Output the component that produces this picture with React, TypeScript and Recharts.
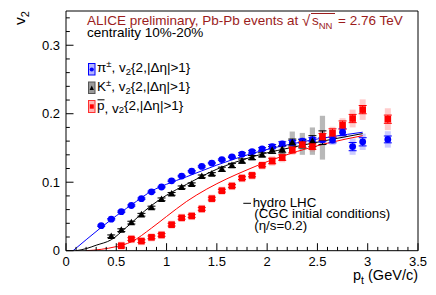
import React from 'react';
import { ComposedChart, Line, Scatter, XAxis, YAxis, ReferenceArea, ReferenceLine, ErrorBar } from 'recharts';

// ---------- data ----------
const pionPt = [0.35, 0.45, 0.55, 0.65, 0.75, 0.85, 0.95, 1.05, 1.15, 1.25, 1.35, 1.45, 1.55, 1.65, 1.75, 1.85, 1.95, 2.05, 2.15, 2.25, 2.35, 2.45, 2.55, 2.65, 2.75, 2.85, 2.95, 3.2];
const pionV2 = [0.0365, 0.046, 0.057, 0.066, 0.076, 0.086, 0.093, 0.102, 0.109, 0.116, 0.123, 0.128, 0.133, 0.137, 0.141, 0.1445, 0.1485, 0.152, 0.156, 0.158, 0.16, 0.162, 0.162, 0.1615, 0.173, 0.152, 0.159, 0.1625];
const pionStat = [0.001, 0.001, 0.001, 0.001, 0.001, 0.001, 0.001, 0.001, 0.001, 0.001, 0.001, 0.001, 0.001, 0.001, 0.002, 0.002, 0.002, 0.003, 0.003, 0.003, 0.003, 0.003, 0.003, 0.004, 0.005, 0.006, 0.006, 0.005];
const pionSys = [0.0035, 0.0035, 0.0035, 0.0035, 0.0035, 0.0035, 0.0035, 0.004, 0.004, 0.004, 0.004, 0.004, 0.004, 0.004, 0.004, 0.004, 0.004, 0.005, 0.005, 0.005, 0.005, 0.005, 0.005, 0.007, 0.009, 0.012, 0.012, 0.012];

const kaonPt = [0.45, 0.55, 0.65, 0.75, 0.85, 0.95, 1.05, 1.15, 1.25, 1.35, 1.45, 1.55, 1.65, 1.75, 1.85, 1.95, 2.05, 2.15, 2.25, 2.35, 2.45, 2.55];
const kaonV2 = [0.021, 0.03, 0.041, 0.0525, 0.063, 0.075, 0.083, 0.0925, 0.097, 0.1085, 0.112, 0.119, 0.1245, 0.131, 0.136, 0.14, 0.147, 0.148, 0.158, 0.156, 0.16, 0.165];
const kaonStat = [0.002, 0.002, 0.002, 0.002, 0.002, 0.002, 0.002, 0.002, 0.002, 0.002, 0.002, 0.003, 0.003, 0.003, 0.003, 0.003, 0.005, 0.005, 0.005, 0.006, 0.008, 0.01];
const kaonSys = [0.003, 0.003, 0.003, 0.003, 0.003, 0.003, 0.003, 0.003, 0.003, 0.003, 0.003, 0.004, 0.004, 0.004, 0.004, 0.004, 0.006, 0.008, 0.016, 0.016, 0.02, 0.032];

const protonPt = [0.55, 0.65, 0.75, 0.85, 0.95, 1.05, 1.15, 1.25, 1.35, 1.45, 1.55, 1.65, 1.75, 1.85, 1.95, 2.05, 2.15, 2.25, 2.35, 2.45, 2.55, 2.65, 2.75, 2.85, 2.95, 3.2];
const protonV2 = [0.0073, 0.017, 0.014, 0.0195, 0.023, 0.038, 0.048, 0.0507, 0.061, 0.076, 0.0876, 0.0945, 0.106, 0.11, 0.1247, 0.131, 0.136, 0.147, 0.155, 0.152, 0.166, 0.172, 0.1835, 0.193, 0.206, 0.192];
const protonStat = [0.002, 0.002, 0.002, 0.002, 0.002, 0.002, 0.002, 0.002, 0.002, 0.002, 0.002, 0.002, 0.002, 0.002, 0.002, 0.004, 0.004, 0.004, 0.004, 0.004, 0.005, 0.006, 0.006, 0.006, 0.006, 0.006];
const protonSys = [0.006, 0.006, 0.006, 0.006, 0.006, 0.006, 0.006, 0.006, 0.006, 0.006, 0.006, 0.006, 0.006, 0.006, 0.006, 0.007, 0.007, 0.007, 0.007, 0.007, 0.009, 0.009, 0.01, 0.013, 0.015, 0.016];

const hydroPionPt = [0.07, 0.2, 0.35, 0.5, 0.7, 0.85, 1.0, 1.2, 1.5, 1.85, 2.35, 2.95];
const hydroPionV2 = [0, 0.016, 0.034, 0.051, 0.072, 0.087, 0.097, 0.108, 0.125, 0.142, 0.159, 0.173];
const hydroKaonPt = [0.1, 0.2, 0.3, 0.45, 0.6, 0.84, 1.0, 1.2, 1.5, 1.85, 2.35, 2.95];
const hydroKaonV2 = [0, 0.003, 0.008, 0.016, 0.034, 0.065, 0.081, 0.097, 0.119, 0.137, 0.154, 0.171];
const hydroProtonPt = [0.2, 0.35, 0.5, 0.65, 0.85, 1.0, 1.2, 1.4, 1.6, 1.8, 2.0, 2.3, 2.6, 2.95];
const hydroProtonV2 = [0, 0.002, 0.006, 0.013, 0.033, 0.05, 0.072, 0.09, 0.105, 0.118, 0.13, 0.145, 0.157, 0.168];

const xMajorTicks = [0, 0.5, 1, 1.5, 2, 2.5, 3, 3.5];
const xTickLabels = ['0', '0.5', '1', '1.5', '2', '2.5', '3', '3.5'];
const yMajorTicks = [0, 0.1, 0.2, 0.3];
const yTickLabels = ['0', '0.1', '0.2', '0.3'];
const X_MAX = 3.5;
const Y_MAX = 0.35;

// ---------- derived ----------
const mk = (xs: number[], ys: number[], st?: number[], sy?: number[]) =>
  xs.map((x, i) => ({ x, y: ys[i], stat: st ? st[i] : 0, sys: sy ? sy[i] : 0 }));
const pions = mk(pionPt, pionV2, pionStat, pionSys);
const kaons = mk(kaonPt, kaonV2, kaonStat, kaonSys);
const protons = mk(protonPt, protonV2, protonStat, protonSys);
const hPion = mk(hydroPionPt, hydroPionV2);
const hKaon = mk(hydroKaonPt, hydroKaonV2);
const hProton = mk(hydroProtonPt, hydroProtonV2);

// minor ticks every 0.1 on x, every 0.02 on y
const xTicksAll: number[] = [];
for (let i = 0; i <= 35; i++) xTicksAll.push(Math.round(i * 10) / 100);
const yTicksAll: number[] = [];
for (let i = 0; i <= 17; i++) yTicksAll.push(Math.round(i * 2) / 100);

const FONT = '"Liberation Sans", Arial, Helvetica, sans-serif';
const W = 428;
const H = 287;

const isMajor = (v: number, arr: number[]) => arr.findIndex((m) => Math.abs(m - v) < 1e-6);

const XTick = (props: any) => {
  const { x, y, payload } = props;
  const idx = isMajor(payload.value, xMajorTicks);
  return (
    <g>
      <line x1={x} x2={x} y1={y} y2={y - (idx >= 0 ? 7.5 : 3.8)} stroke="#000" strokeWidth={1} />
      {idx >= 0 && (
        <text x={x} y={y + 15} textAnchor="middle" fontSize={13} fontFamily={FONT} fill="#000">
          {xTickLabels[idx]}
        </text>
      )}
    </g>
  );
};

const YTick = (props: any) => {
  const { x, y, payload } = props;
  const idx = isMajor(payload.value, yMajorTicks);
  return (
    <g>
      <line x1={x} x2={x + (idx >= 0 ? 7.5 : 3.8)} y1={y} y2={y} stroke="#000" strokeWidth={1} />
      {idx >= 0 && (
        <text x={x - 6} y={y + 4.6} textAnchor="end" fontSize={13} fontFamily={FONT} fill="#000">
          {yTickLabels[idx]}
        </text>
      )}
    </g>
  );
};

const Circle = (p: any) => <circle cx={p.cx} cy={p.cy} r={3.4} fill="#0000ff" />;
const Tri = (p: any) => (
  <polygon points={`${p.cx},${p.cy - 3.9} ${p.cx - 3.6},${p.cy + 2.7} ${p.cx + 3.6},${p.cy + 2.7}`} fill="#000" />
);
const Sq = (p: any) => <rect x={p.cx - 3.3} y={p.cy - 3.3} width={6.6} height={6.6} fill="#ff0000" />;

const boxes = (data: any[], fill: string, op: number, hw: number, key: string) =>
  data.map((d, i) => (
    <ReferenceArea
      key={key + i}
      x1={d.x - hw}
      x2={d.x + hw}
      y1={d.y - d.sys}
      y2={d.y + d.sys}
      fill={fill}
      fillOpacity={op}
      stroke="none"
      ifOverflow="visible"
    />
  ));

const legendText = (label: React.ReactNode, x: number, y: number) => (
  <text x={x} y={y} fontSize={13.5} fontFamily={FONT} fill="#000">
    {label}
  </text>
);

const TITLE_COLOR = '#9b1c1c';

export default function App() {
  return (
    <div style={{ position: 'relative', width: W, height: H }}>
      <ComposedChart width={W} height={H} margin={{ top: 3, right: 18, left: 13, bottom: 14.3 }}>
        <XAxis
          type="number"
          dataKey="x"
          domain={[0, X_MAX]}
          ticks={xTicksAll}
          interval={0}
          tickSize={0}
          tickMargin={0}
          tickLine={false}
          tick={<XTick />}
          axisLine={{ stroke: '#000' }}
          height={30}
          allowDataOverflow
        />
        <YAxis
          type="number"
          dataKey="y"
          domain={[0, Y_MAX]}
          ticks={yTicksAll}
          interval={0}
          tickSize={0}
          tickMargin={0}
          tickLine={false}
          tick={<YTick />}
          axisLine={{ stroke: '#000' }}
          width={45}
          allowDataOverflow
        />
        <ReferenceLine y={Y_MAX} stroke="#000" />
        <ReferenceLine x={X_MAX} stroke="#000" />
        {boxes(pions, '#0000ff', 0.2, 0.03, 'pb')}
        {boxes(kaons, '#000000', 0.28, 0.026, 'kb')}
        {boxes(protons, '#ff0000', 0.2, 0.03, 'rb')}
        <Line data={hPion} dataKey="y" type="monotone" stroke="#0000ff" strokeWidth={1} dot={false} isAnimationActive={false} />
        <Line data={hKaon} dataKey="y" type="monotone" stroke="#000000" strokeWidth={1} dot={false} isAnimationActive={false} />
        <Line data={hProton} dataKey="y" type="monotone" stroke="#ff0000" strokeWidth={1} dot={false} isAnimationActive={false} />
        <Scatter data={pions} dataKey="y" shape={<Circle />} isAnimationActive={false}>
          <ErrorBar dataKey="stat" direction="y" width={4} stroke="#0000ff" strokeWidth={1} />
        </Scatter>
        <Scatter data={kaons} dataKey="y" shape={<Tri />} isAnimationActive={false}>
          <ErrorBar dataKey="stat" direction="y" width={4} stroke="#000" strokeWidth={1} />
        </Scatter>
        <Scatter data={protons} dataKey="y" shape={<Sq />} isAnimationActive={false}>
          <ErrorBar dataKey="stat" direction="y" width={4} stroke="#ff0000" strokeWidth={1} />
        </Scatter>
      </ComposedChart>
      <svg width={W} height={H} style={{ position: 'absolute', left: 0, top: 0, pointerEvents: 'none' }}>
        {/* y label */}
        <text transform="translate(17,17) rotate(-90)" fontSize={15.5} fontFamily={FONT} fill="#000">
          v<tspan dy={4} fontSize={11}>2</tspan>
        </text>
        {/* x label */}
        <text x={410} y={272} textAnchor="end" fontSize={14.5} fontFamily={FONT} fill="#000">
          p<tspan dy={4} fontSize={10.5}>t</tspan>
          <tspan dy={-4}> (GeV/c)</tspan>
        </text>
        {/* title */}
        <text x={79} y={17} fontSize={13.5} fontFamily={FONT} fill={TITLE_COLOR}>
          ALICE preliminary, Pb-Pb events at
        </text>
        <text x={294} y={18} fontSize={15} fontFamily={FONT} fill={TITLE_COLOR}>√</text>
        <text x={304} y={17} fontSize={13.5} fontFamily={FONT} fill={TITLE_COLOR}>
          s<tspan dy={3.5} fontSize={9.5}>NN</tspan>
        </text>
        <line x1={303} x2={327} y1={5.5} y2={5.5} stroke={TITLE_COLOR} strokeWidth={1} />
        <text x={330} y={17} fontSize={13.5} fontFamily={FONT} fill={TITLE_COLOR}>
          = 2.76 TeV
        </text>
        <text x={79} y={29} fontSize={13.5} fontFamily={FONT} fill="#000">
          centrality 10%-20%
        </text>
        {/* legend */}
        <rect x={80.5} y={55.5} width={6.5} height={11.5} fill="#b4b4ff" stroke="#0000ff" strokeWidth={1} />
        <circle cx={83.75} cy={61.5} r={2.1} fill="#0000ff" />
        {legendText(
          <>
            π<tspan dy={-5} fontSize={9.5}>±</tspan>
            <tspan dy={5}>, v</tspan>
            <tspan dy={3} fontSize={9.5}>2</tspan>
            <tspan dy={-3}>{'{2,|Δη|>1}'}</tspan>
          </>,
          89,
          64
        )}
        <rect x={80.5} y={74} width={6.5} height={11.5} fill="#9a9a9a" stroke="#555" strokeWidth={1} />
        <polygon points="83.75,77.6 81.6,82 85.9,82" fill="#000" />
        {legendText(
          <>
            K<tspan dy={-5} fontSize={9.5}>±</tspan>
            <tspan dy={5}>, v</tspan>
            <tspan dy={3} fontSize={9.5}>2</tspan>
            <tspan dy={-3}>{'{2,|Δη|>1}'}</tspan>
          </>,
          89,
          83
        )}
        <rect x={80.5} y={92.5} width={6.5} height={12} fill="#ffb4b4" stroke="#ff3030" strokeWidth={1} />
        <rect x={81.8} y={96.3} width={4} height={4.4} fill="#ff0000" />
        {legendText(
          <>
            p<tspan dy={3}>, v</tspan>
            <tspan dy={0} fontSize={9.5}>2</tspan>
            <tspan dy={-3}>{'{2,|Δη|>1}'}</tspan>
          </>,
          89,
          101.5
        )}
        <line x1={89.5} x2={96.5} y1={91.8} y2={91.8} stroke="#000" strokeWidth={1} />
        {/* hydro legend */}
        <line x1={235.3} x2={243} y1={195.3} y2={195.3} stroke="#000" strokeWidth={1} />
        <text x={244.7} y={198.7} fontSize={13.3} fontFamily={FONT} fill="#000">hydro LHC</text>
        <text x={246.3} y={210.4} fontSize={13.3} fontFamily={FONT} fill="#000">(CGC initial conditions)</text>
        <text x={246.3} y={221.6} fontSize={13.3} fontFamily={FONT} fill="#000">(η/s=0.2)</text>
      </svg>
    </div>
  );
}
